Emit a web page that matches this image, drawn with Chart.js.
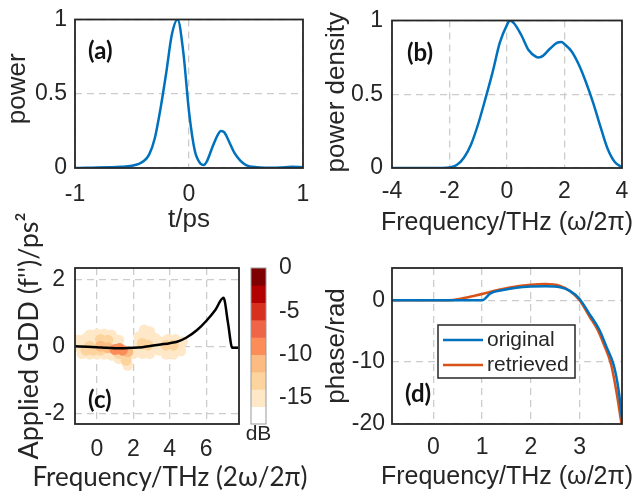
<!DOCTYPE html>
<html>
<head>
<meta charset="utf-8">
<script src="https://cdn.jsdelivr.net/npm/chart.js@4.4.1/dist/chart.umd.min.js"></script>
<style>
  html, body { margin: 0; padding: 0; background: #fff; }
  #fig { position: relative; width: 633px; height: 496px; overflow: hidden; }
  .panel { position: absolute; }
</style>
</head>
<body>
<div id="fig">
  <div class="panel" style="left:0;top:0;width:316px;height:240px"><canvas id="chartA"></canvas></div>
  <div class="panel" style="left:316px;top:0;width:317px;height:240px"><canvas id="chartB"></canvas></div>
  <div class="panel" style="left:0;top:200px;width:320px;height:296px"><canvas id="chartC"></canvas></div>
  <div class="panel" style="left:240px;top:240px;width:90px;height:256px"><canvas id="chartCb"></canvas></div>
  <div class="panel" style="left:316px;top:240px;width:317px;height:256px"><canvas id="chartD"></canvas></div>
</div>
<script>
// (a) temporal power
const timePs = [-1, -0.9, -0.8, -0.7, -0.6, -0.5, -0.45, -0.4, -0.35, -0.3, -0.25, -0.2, -0.15, -0.1, -0.05,
  0, 0.05, 0.1, 0.13, 0.16, 0.2, 0.25, 0.28, 0.31, 0.35, 0.4, 0.45, 0.5, 0.6, 0.7, 0.8, 0.9, 1];
const powerT = [0, 0.002, 0.003, 0.005, 0.008, 0.015, 0.025, 0.045, 0.09, 0.2, 0.4, 0.64, 0.9, 1.0, 0.78,
  0.38, 0.12, 0.03, 0.02, 0.05, 0.13, 0.22, 0.25, 0.24, 0.18, 0.1, 0.05, 0.02, 0.005, 0.002, 0.004, 0.008, 0.005];
const ticksAx = [-1, 0, 1];
const ticksAy = [0, 0.5, 1];

// (b) spectrum
const freqB = [-4, -3, -2.25, -2, -1.75, -1.5, -1.25, -1, -0.75, -0.5, -0.25, 0, 0.1, 0.25, 0.5,
  0.75, 1, 1.1, 1.25, 1.5, 1.75, 1.9, 2, 2.25, 2.5, 2.75, 3, 3.25, 3.5, 3.75, 4];
const powerF = [0, 0, 0, 0.003, 0.02, 0.07, 0.16, 0.3, 0.47, 0.65, 0.85, 0.97, 1.0, 0.98, 0.9,
  0.8, 0.755, 0.75, 0.76, 0.81, 0.85, 0.855, 0.84, 0.79, 0.7, 0.58, 0.44, 0.28, 0.13, 0.04, 0.005];
const ticksBx = [-4, -2, 0, 2, 4];
const ticksBy = [0, 0.5, 1];

// (c) applied GDD + trace (dB)
const freqC = [-1.2, -0.5, 0, 0.5, 1, 1.5, 2, 2.5, 3, 3.5, 4, 4.4, 4.9, 5.5, 6, 6.5, 6.95, 7.2, 7.43, 7.6, 7.75];
const gddC = [0.02, 0, -0.01, -0.03, -0.04, -0.04, -0.03, -0.01, 0.03, 0.07, 0.11, 0.15, 0.27, 0.5, 0.77, 1.1, 1.46, 0.7, -0.03, -0.03, -0.03];
const heatX = [
  -0.4, 0, 0.4, 0.8, -1.0, -0.6, 1.2, -1.1, -0.8, -0.4, 0, 0.4, 0.8, 1.2, 1.6, 1.7, 2.0,
  -0.6, -0.2, 0.2, 0.6, 0.9, -0.8, -0.6, -0.2, 0.2, 1.2, 1.5, 1.6,
  -0.4, 0.2, 0.6, 1.0, 1.4, 1.7, 1.25,
  2.6, 2.9, 2.3, 3.2, 2.3, 3.3, 2.5, 2.9, 2.7, 2.5, 3.0, 2.8,
  3.5, 3.9, 4.3, 4.7, 3.4, 3.8, 4.2, 4.6, 3.8, 4.5, 4.2];
const heatY = [
  0.35, 0.38, 0.38, 0.35, 0.2, 0.25, 0.2, 0.0, -0.2, -0.22, -0.22, -0.22, -0.25, -0.35, -0.35, -0.55, -0.2,
  0.2, 0.2, 0.22, 0.2, 0.15, 0.05, -0.1, -0.1, -0.1, -0.2, -0.2, -0.4,
  0.02, 0.02, -0.03, -0.08, -0.1, -0.15, -0.05,
  0.5, 0.45, 0.3, 0.25, 0.05, 0.0, -0.2, -0.2, 0.3, 0.1, 0.1, 0.05,
  0.15, 0.22, 0.22, 0.15, -0.1, -0.22, -0.22, -0.12, 0.05, 0.05, 0.05];
const heatDb = [
  -15, -15, -15, -15, -15, -15, -15, -15, -15, -15, -15, -15, -15, -15, -15, -15, -15,
  -14, -14, -13, -13, -14, -14, -13, -13, -13, -12, -12, -13,
  -12, -11, -10, -9, -9, -11, -8,
  -15, -15, -15, -15, -15, -15, -15, -15, -14, -13, -14, -12,
  -15, -15, -15, -15, -15, -15, -15, -15, -13, -14, -12];
const ticksCx = [0, 2, 4, 6];
const ticksCy = [-2, 0, 2];

// colour bar (dB)
const cbLevels = [0, -2, -4, -6, -8, -10, -12, -14, -16];
const cbColors = ['#7f0000', '#b30000', '#d7301f', '#ef6548', '#fc8d59', '#fdbb84', '#fdd49e', '#fee8c8', '#ffffff'];
const cbTicks = [0, -5, -10, -15];

// (d) spectral phase
const freqOrig = [-0.85, 0, 0.5, 1.0, 1.17, 1.4, 1.7, 2.0, 2.3, 2.6, 2.8, 3.0, 3.2, 3.4, 3.55, 3.7, 3.8, 3.88];
const phaseOrig = [0, 0, 0, 0, 1.1, 1.6, 2.0, 2.2, 2.25, 2.1, 1.5, 0.2, -2.2, -4.7, -7.5, -10.5, -14.5, -19.8];
const freqRetr = [-0.85, 0, 0.4, 0.6, 0.8, 1.0, 1.3, 1.6, 2.0, 2.3, 2.6, 2.8, 3.0, 3.2, 3.37, 3.5, 3.65, 3.76, 3.86];
const phaseRetr = [0, 0, 0.05, 0.3, 0.65, 1.0, 1.6, 2.1, 2.5, 2.6, 2.3, 1.5, 0.0, -2.6, -4.8, -7.2, -10.5, -15, -20];
const ticksDx = [0, 1, 2, 3];
const ticksDy = [-20, -10, 0];

const BLUE = '#0072BD', ORANGE = '#D95319', GRID = '#cccccc', INK = '#262626';
const SANS = '"Liberation Sans", Arial, sans-serif';
Chart.defaults.font.family = SANS;
Chart.defaults.color = INK;
Chart.defaults.animation = false;

const dbColor = db => cbColors[Math.min(cbColors.length - 1, Math.floor(-db / 2))];

function xy(xs, ys) { return xs.map((x, i) => ({ x: x, y: ys[i] })); }

function lineSet(label, xs, ys, color) {
  return {
    label: label, data: xy(xs, ys), borderColor: color, backgroundColor: color,
    borderWidth: 2.5, pointRadius: 0, showLine: true, fill: false,
    cubicInterpolationMode: 'monotone'
  };
}

function frame(color, width) {
  return {
    id: 'frame',
    afterDraw(chart) {
      const { ctx, chartArea: a } = chart;
      ctx.save();
      ctx.strokeStyle = color;
      ctx.lineWidth = width;
      ctx.strokeRect(a.left, a.top, a.right - a.left, a.bottom - a.top);
      ctx.restore();
    }
  };
}

function panelTag(text, dx, dy) {
  return {
    id: 'panelTag',
    afterDraw(chart) {
      const { ctx, chartArea: a } = chart;
      ctx.save();
      ctx.font = 'bold 24px Lato, sans-serif';
      ctx.fillStyle = '#111';
      ctx.textBaseline = 'middle';
      ctx.fillText(text, a.left + dx, a.top + dy);
      ctx.restore();
    }
  };
}

// axis titles drawn by hand so the text is not squeezed to the axis length
function axisTitles(xt, yt) {
  return {
    id: 'axisTitles',
    afterDraw(chart) {
      const { ctx, chartArea: a } = chart;
      ctx.save();
      ctx.fillStyle = INK;
      ctx.textAlign = 'center';
      ctx.textBaseline = 'middle';
      if (xt) {
        ctx.font = xt.font;
        ctx.fillText(xt.text, (a.left + a.right) / 2 + (xt.dx || 0), a.bottom + xt.dy);
      }
      if (yt) {
        ctx.font = yt.font;
        ctx.translate(yt.x, (a.top + a.bottom) / 2 + (yt.dy || 0));
        ctx.rotate(-Math.PI / 2);
        ctx.fillText(yt.text, 0, 0);
      }
      ctx.restore();
    }
  };
}

const tickText = v => String(v);

function xAxis(o) {
  return {
    type: 'linear', min: o.min, max: o.max,
    afterBuildTicks: s => { s.ticks = o.ticks.map(v => ({ value: v })); },
    // fixed axis height; edge labels must not shrink the plot box
    afterFit: s => { s.height = o.height; s.paddingLeft = 0; s.paddingRight = 0; },
    grid: { color: GRID, lineWidth: 1.3, drawTicks: false },
    border: { display: false, dash: [7, 5] },
    ticks: { padding: o.tickPad, autoSkip: false, maxRotation: 0, font: { size: 23, lineHeight: 1 }, callback: tickText }
  };
}

function yAxis(o) {
  return {
    type: 'linear', min: o.min, max: o.max,
    afterBuildTicks: s => { s.ticks = o.ticks.map(v => ({ value: v })); },
    afterFit: s => { s.width = o.width; },
    grid: { color: GRID, lineWidth: 1.3, drawTicks: false },
    border: { display: false, dash: [7, 5] },
    ticks: { padding: o.tickPad, autoSkip: false, font: { size: 23, lineHeight: 1 }, callback: tickText }
  };
}

const noLegend = { legend: { display: false }, tooltip: { enabled: false } };

// (a)
new Chart(document.getElementById('chartA'), {
  type: 'scatter',
  data: { datasets: [lineSet('power', timePs, powerT, BLUE)] },
  options: {
    responsive: true, maintainAspectRatio: false,
    layout: { padding: { top: 12, right: 13, left: 0, bottom: 0 } },
    plugins: noLegend,
    scales: {
      x: xAxis({ min: -1, max: 1, ticks: ticksAx, height: 72, tickPad: 15 }),
      y: yAxis({ min: 0, max: 1, ticks: ticksAy, width: 75, tickPad: 8 })
    }
  },
  plugins: [frame(INK, 1.8), panelTag('(a)', 13, 32),
    axisTitles({ text: 't/ps', font: '26px ' + SANS, dy: 52 },
               { text: 'power', font: '26px ' + SANS, x: 18, dy: -5 })]
});

// (b)
new Chart(document.getElementById('chartB'), {
  type: 'scatter',
  data: { datasets: [lineSet('power density', freqB, powerF, BLUE)] },
  options: {
    responsive: true, maintainAspectRatio: false,
    layout: { padding: { top: 12, right: 11, left: 0, bottom: 0 } },
    plugins: noLegend,
    scales: {
      x: xAxis({ min: -4, max: 4, ticks: ticksBx, height: 72, tickPad: 12 }),
      y: yAxis({ min: 0, max: 1, ticks: ticksBy, width: 76, tickPad: 9 })
    }
  },
  plugins: [frame(INK, 1.8), panelTag('(b)', 15, 33),
    axisTitles({ text: 'Frequency/THz (\u03c9/2\u03c0)', font: '25px ' + SANS, dy: 55 },
               { text: 'power density', font: '26px ' + SANS, x: 21, dy: -2 })]
});

// (c)
const heatOrder = heatDb.map((d, i) => i).sort((a, b) => heatDb[a] - heatDb[b]);
new Chart(document.getElementById('chartC'), {
  type: 'scatter',
  data: {
    datasets: [
      lineSet('GDD', freqC, gddC, '#000000'),
      {
        label: 'trace',
        data: heatOrder.map(i => ({ x: heatX[i], y: heatY[i] })),
        pointBackgroundColor: heatOrder.map(i => dbColor(heatDb[i])),
        pointBorderWidth: 0, pointRadius: 5.5, showLine: false
      }
    ]
  },
  options: {
    responsive: true, maintainAspectRatio: false,
    layout: { padding: { top: 68, right: 81, left: 0, bottom: 0 } },
    plugins: noLegend,
    scales: {
      x: xAxis({ min: -1.2, max: 7.8, ticks: ticksCx, height: 72, tickPad: 14 }),
      y: yAxis({ min: -2.3, max: 2.35, ticks: ticksCy, width: 75, tickPad: 10 })
    }
  },
  plugins: [frame(INK, 1.8), panelTag('(c)', 13, 132),
    axisTitles({ text: 'Frequency/THz (2\u03c9/2\u03c0)', font: '26px Lato, sans-serif', dy: 54, dx: 13 },
               { text: "Applied GDD (f'')/ps\u00b2", font: '27px Lato, sans-serif', x: 29, dy: -10 })]
});

// colour bar
new Chart(document.getElementById('chartCb'), {
  type: 'bar',
  data: {
    labels: ['dB'],
    datasets: cbLevels.map((lv, i) => ({
      label: String(lv), data: [cbLevels[i + 1] !== undefined ? cbLevels[i + 1] - lv : -2],
      backgroundColor: cbColors[i], borderWidth: 0, barPercentage: 1, categoryPercentage: 1
    }))
  },
  options: {
    responsive: true, maintainAspectRatio: false,
    layout: { padding: { top: 28, right: 0, left: 11, bottom: 0 } },
    plugins: noLegend,
    scales: {
      x: {
        stacked: true, afterFit: s => { s.height = 72; },
        grid: { display: false }, border: { display: false },
        ticks: { display: false }
      },
      y: {
        stacked: true, position: 'right', min: -18, max: 0,
        afterBuildTicks: s => { s.ticks = cbTicks.map(v => ({ value: v })); },
        afterFit: s => { s.width = 64; },
        grid: { display: false }, border: { display: false },
        ticks: { padding: 5, font: { size: 23, lineHeight: 1 }, callback: tickText }
      }
    }
  },
  plugins: [frame('#999', 1), axisTitles({ text: 'dB', font: '21px ' + SANS, dy: 10 }, null)]
});

// (d)
const legendBox = {
  id: 'legendBox',
  afterDraw(chart) {
    const { ctx, chartArea: a } = chart;
    const x0 = a.left + 46, y0 = a.top + 57;
    ctx.save();
    ctx.fillStyle = '#fff';
    ctx.fillRect(x0, y0, 137, 53);
    ctx.strokeStyle = INK;
    ctx.lineWidth = 1.5;
    ctx.strokeRect(x0, y0, 137, 53);
    ctx.font = '21px ' + SANS;
    ctx.textBaseline = 'middle';
    chart.data.datasets.forEach((ds, i) => {
      const yy = y0 + 15 + i * 25;
      ctx.strokeStyle = ds.borderColor;
      ctx.lineWidth = 2.5;
      ctx.beginPath();
      ctx.moveTo(x0 + 5, yy);
      ctx.lineTo(x0 + 45, yy);
      ctx.stroke();
      ctx.fillStyle = INK;
      ctx.fillText(ds.label, x0 + 49, yy);
    });
    ctx.restore();
  }
};

new Chart(document.getElementById('chartD'), {
  type: 'scatter',
  data: {
    datasets: [
      lineSet('original', freqOrig, phaseOrig, BLUE),
      lineSet('retrieved', freqRetr, phaseRetr, ORANGE)
    ]
  },
  options: {
    responsive: true, maintainAspectRatio: false,
    layout: { padding: { top: 28, right: 11, left: 0, bottom: 0 } },
    plugins: noLegend,
    scales: {
      x: xAxis({ min: -0.85, max: 3.87, ticks: ticksDx, height: 72, tickPad: 12 }),
      y: yAxis({ min: -20, max: 5.2, ticks: ticksDy, width: 76, tickPad: 7 })
    }
  },
  plugins: [frame(INK, 1.8), legendBox, panelTag('(d)', 13, 126),
    axisTitles({ text: 'Frequency/THz (\u03c9/2\u03c0)', font: '25px ' + SANS, dy: 53 },
               { text: 'phase/rad', font: '26px ' + SANS, x: 21, dy: 0 })]
});
</script>
</body>
</html>
